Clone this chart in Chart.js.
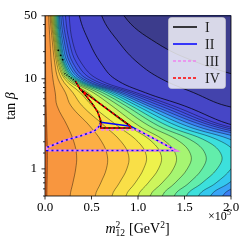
<!DOCTYPE html>
<html>
<head>
<meta charset="utf-8">
<script src="https://cdn.jsdelivr.net/npm/chart.js@4/dist/chart.umd.min.js"></script>
<style>
  html, body { margin: 0; padding: 0; background: #fff; }
</style>
</head>
<body>
<canvas id="chart" width="247" height="243"></canvas>
<script>
const tanBeta = [0.5, 0.7, 1, 1.4, 2, 3, 5, 7, 10, 15, 25, 50];

// m12^2 (units of 1e5 GeV^2) of each contour line at the rows above, low level -> high level
const contourX = [
  [0.02, 0.022, 0.024, 0.025, 0.023, 0.018, 0.012, 0.009, 0.007, 0.006, 0.005, 0.003],
  [0.27, 0.30, 0.33, 0.34, 0.31, 0.24, 0.13, 0.11, 0.085, 0.068, 0.055, 0.04],
  [0.54, 0.60, 0.66, 0.67, 0.61, 0.48, 0.28, 0.22, 0.14, 0.105, 0.08, 0.055],
  [0.72, 0.80, 0.88, 0.90, 0.82, 0.64, 0.40, 0.30, 0.18, 0.125, 0.095, 0.065],
  [0.87, 0.97, 1.06, 1.09, 1.00, 0.78, 0.51, 0.38, 0.21, 0.14, 0.105, 0.075],
  [1.00, 1.11, 1.22, 1.25, 1.15, 0.90, 0.62, 0.46, 0.23, 0.152, 0.115, 0.085],
  [1.13, 1.26, 1.38, 1.41, 1.30, 1.01, 0.72, 0.52, 0.25, 0.165, 0.125, 0.095],
  [1.26, 1.40, 1.53, 1.57, 1.45, 1.12, 0.80, 0.57, 0.27, 0.178, 0.135, 0.105],
  [1.39, 1.55, 1.69, 1.73, 1.60, 1.22, 0.87, 0.62, 0.29, 0.19, 0.145, 0.115],
  [1.52, 1.69, 1.85, 1.90, 1.75, 1.32, 0.93, 0.67, 0.31, 0.20, 0.155, 0.125],
  [1.65, 1.84, 2.00, 2.06, 1.90, 1.42, 0.99, 0.71, 0.33, 0.21, 0.165, 0.135],
  [1.78, 1.98, 2.16, 2.22, 2.05, 1.52, 1.05, 0.75, 0.35, 0.225, 0.175, 0.145],
  [1.91, 2.13, 2.32, 2.38, 2.20, 1.62, 1.11, 0.79, 0.38, 0.245, 0.19, 0.155],
  [2.04, 2.27, 2.48, 2.54, 2.35, 1.72, 1.17, 0.83, 0.41, 0.27, 0.21, 0.17],
  [2.17, 2.42, 2.64, 2.70, 2.50, 1.80, 1.24, 0.88, 0.45, 0.30, 0.235, 0.19],
  [2.30, 2.56, 2.80, 2.86, 2.65, 1.87, 1.31, 0.93, 0.50, 0.34, 0.265, 0.22],
  [2.43, 2.70, 2.95, 3.02, 2.80, 1.94, 1.38, 0.98, 0.56, 0.39, 0.30, 0.26],
  [3.00, 3.20, 3.40, 3.40, 3.00, 2.05, 1.50, 1.08, 0.75, 0.60, 0.48, 0.37],
  [4.20, 4.40, 4.60, 4.50, 4.00, 3.00, 1.95, 1.60, 1.25, 1.00, 0.80, 0.61],
  [5.50, 5.70, 5.90, 5.80, 5.20, 4.50, 3.50, 2.80, 2.20, 1.65, 1.20, 0.85]
];

// band colours: [0] left of the first contour, [k+1] right of contour k
const bandColors = [
  '#e4661f', '#f8963f', '#fcae45', '#fdc545', '#f9df47', '#eef24c', '#cdf55c',
  '#a6f572', '#82f28e', '#62edab', '#3ce0dc', '#34c8ee', '#3aa4f6', '#3c7ef2',
  '#3f66ec', '#4256e6', '#444ce0', '#4646d6', '#4646c6', '#4343ac', '#3c3c8c'
];

// outlines of the allowed regions (x = m12^2 / 1e5, t = tan beta)
const regionIx = [0.92, 0.376, 0.33, 0.376, 0.45, 0.52, 0.57, 0.595, 0.60, 0.60, 0.92, 0.92];
const regionIt = [2.98, 7.7, 9.3, 7.7, 6.3, 5.1, 4.2, 3.5, 3.0, 2.84, 2.84, 2.98];
const regionIDenseX = [0.33, 0.27, 0.21];
const regionIDenseT = [9.3, 10.4, 11.5];
const regionIDotsX = [0.19, 0.169, 0.143];
const regionIDotsT = [16.3, 18.2, 20.7];
const regionIIx = [0.60, 0.92, 1.41, 0.02, 0.02, 0.20, 0.38, 0.53, 0.585, 0.60];
const regionIIt = [3.30, 2.98, 1.60, 1.60, 1.73, 2.05, 2.32, 2.63, 2.98, 3.30];
const regionIIIx = [0.60, 0.60, 0.99, 1.41, 0.02, 0.02, 0.20, 0.38, 0.53, 0.58, 0.60];
const regionIIIt = [3.10, 2.74, 2.72, 1.60, 1.60, 1.73, 2.05, 2.32, 2.63, 2.98, 3.10];
const regionIVx = regionIx;
const regionIVt = regionIt;

const xTicks = [0, 0.5, 1, 1.5, 2];
const yLabels = [1, 10, 50];

const serif = "'Liberation Serif', 'Times New Roman', serif";
const pairs = (xs, ts) => xs.map((x, i) => ({x: x, y: ts[i]}));

const datasets = [];

// filled contour bands: each polygon covers everything right of its contour line
contourX.forEach(function(xs, k) {
  const pts = pairs(xs, tanBeta);
  const first = pts[0], last = pts[pts.length - 1];
  const poly = [{x: first.x, y: 0.3}].concat(pts, [
    {x: last.x, y: 80}, {x: 9, y: 80}, {x: 9, y: 0.3}, {x: first.x, y: 0.3}
  ]);
  datasets.push({
    data: poly,
    fill: 'shape',
    backgroundColor: bandColors[k + 1],
    borderColor: k >= 17 ? 'rgba(0,0,0,0.8)' : 'rgba(0,0,0,0.45)',
    borderWidth: 0.9,
    pointRadius: 0,
    tension: 0.4,
    order: 200 - k
  });
});

const legendItems = [];
function region(label, xs, ts, color, width, dash, order) {
  const ds = {
    label: label, data: pairs(xs, ts), borderColor: color, borderWidth: width,
    borderDash: dash, pointRadius: 0, tension: 0, fill: false, order: order
  };
  datasets.push(ds);
  if (label) legendItems.push(ds);
}
region('II', regionIIx, regionIIt, '#0000ff', 1.5, [], 13);
region('III', regionIIIx, regionIIIt, 'violet', 2.4, [3, 2], 12);
region('I', regionIx, regionIt, '#000000', 1.4, [], 11);
region('IV', regionIVx, regionIVt, '#ff0000', 1.4, [3, 2], 10);
region('', regionIDenseX, regionIDenseT, '#000000', 1.4, [1, 1.6], 9);
datasets.push({
  data: pairs(regionIDotsX, regionIDotsT), showLine: false, pointRadius: 0.9,
  pointBackgroundColor: '#000', pointBorderWidth: 0, order: 8
});
const legendOrder = ['I', 'II', 'III', 'IV'];
legendItems.sort((a, b) => legendOrder.indexOf(a.label) - legendOrder.indexOf(b.label));

const isLabelled = v => yLabels.some(l => Math.abs(l - v) < 1e-6);

const decor = {
  id: 'decor',
  beforeDatasetsDraw(chart) {
    const {ctx, chartArea: a} = chart;
    ctx.save();
    ctx.fillStyle = bandColors[0];
    ctx.fillRect(a.left, a.top, a.right - a.left, a.bottom - a.top);
    ctx.restore();
  },
  afterDraw(chart) {
    const {ctx, chartArea: a} = chart;
    const xs = chart.scales.x, ys = chart.scales.y;
    ctx.save();
    // frame and tick marks
    ctx.strokeStyle = '#000';
    ctx.lineWidth = 0.8;
    ctx.strokeRect(a.left, a.top, a.right - a.left, a.bottom - a.top);
    ctx.beginPath();
    xs.ticks.forEach(tk => {
      const px = xs.getPixelForValue(tk.value);
      ctx.moveTo(px, a.bottom); ctx.lineTo(px, a.bottom + 3.5);
    });
    ys.ticks.forEach(tk => {
      const py = ys.getPixelForValue(tk.value);
      const len = isLabelled(tk.value) ? 3.5 : 2;
      ctx.moveTo(a.left - len, py); ctx.lineTo(a.left, py);
    });
    ctx.stroke();

    // legend
    const bx = 168.5, by = 17.5, bw = 57, bh = 71;
    ctx.fillStyle = 'rgba(255,255,255,0.8)';
    ctx.strokeStyle = 'rgba(204,204,204,0.8)';
    ctx.beginPath();
    ctx.roundRect(bx, by, bw, bh, 3);
    ctx.fill(); ctx.stroke();
    ctx.font = '14px ' + serif;
    ctx.textBaseline = 'middle';
    ctx.textAlign = 'left';
    legendItems.forEach((ds, i) => {
      const y = 27 + i * 17;
      ctx.strokeStyle = ds.borderColor;
      ctx.lineWidth = ds.label === 'III' ? 1.6 : 1.5;
      ctx.setLineDash(ds.borderDash);
      ctx.beginPath(); ctx.moveTo(173, y); ctx.lineTo(197, y); ctx.stroke();
      ctx.setLineDash([]);
      ctx.fillStyle = '#222';
      ctx.fillText(ds.label, 205, y + 1);
    });

    // axis titles
    ctx.fillStyle = '#000';
    ctx.textBaseline = 'alphabetic';
    const big = '14px ' + serif, small = '9.5px ' + serif;
    const parts = [
      {t: 'm', f: 'italic ' + big, dy: 0},
      {t: '2', f: small, dy: -5.5, stack: '12'},
      {t: ' [GeV', f: big, dy: 0},
      {t: '2', f: small, dy: -5.5},
      {t: ']', f: big, dy: 0}
    ];
    let total = 0;
    parts.forEach(p => {
      ctx.font = p.f;
      p.w = ctx.measureText(p.t).width;
      if (p.stack) p.w = Math.max(p.w, ctx.measureText(p.stack).width);
      total += p.w + (p.stack ? 0.5 : 0);
    });
    let cx = 137 - total / 2;
    const base = 233;
    parts.forEach(p => {
      ctx.font = p.f;
      ctx.fillText(p.t, cx + 0.5, base + p.dy);
      if (p.stack) ctx.fillText(p.stack, cx + 0.5, base + 3);
      cx += p.w + (p.stack ? 0.5 : 0);
    });

    ctx.save();
    ctx.translate(15, 106);
    ctx.rotate(-Math.PI / 2);
    ctx.font = big;
    const w1 = ctx.measureText('tan ').width;
    ctx.font = 'italic ' + big;
    const w2 = ctx.measureText('β').width;
    ctx.font = big;
    ctx.fillText('tan ', -(w1 + w2) / 2, 0);
    ctx.font = 'italic ' + big;
    ctx.fillText('β', -(w1 + w2) / 2 + w1, 0);
    ctx.restore();

    // offset text of the x axis, below the last tick label
    ctx.textAlign = 'right';
    ctx.font = '8.5px ' + serif;
    const w5 = ctx.measureText('5').width;
    ctx.fillText('5', 231, 215);
    ctx.font = '12px ' + serif;
    ctx.fillText('×10', 231 - w5, 220);
    ctx.restore();
  }
};

new Chart(document.getElementById('chart'), {
  type: 'line',
  data: {datasets: datasets},
  options: {
    responsive: false,
    devicePixelRatio: 1,
    animation: false,
    events: [],
    layout: {padding: {left: 0, right: 16, top: 12, bottom: 0}},
    elements: {line: {capBezierPoints: false}},
    plugins: {legend: {display: false}, tooltip: {enabled: false}},
    scales: {
      x: {
        type: 'linear', min: 0, max: 2,
        afterBuildTicks: s => { s.ticks = xTicks.map(v => ({value: v})); },
        ticks: {callback: v => v.toFixed(1), color: '#000', padding: 4, maxRotation: 0, font: {family: serif, size: 13}},
        grid: {display: false, drawTicks: false},
        border: {display: false},
        afterFit: s => { s.height = 47; }
      },
      y: {
        type: 'logarithmic', min: 0.5, max: 50,
        ticks: {callback: v => isLabelled(v) ? String(Math.round(v)) : '', autoSkip: false, color: '#000', padding: 8, font: {family: serif, size: 13}},
        grid: {display: false, drawTicks: false},
        border: {display: false},
        afterFit: s => { s.width = 45; }
      }
    }
  },
  plugins: [decor]
});
</script>
</body>
</html>
